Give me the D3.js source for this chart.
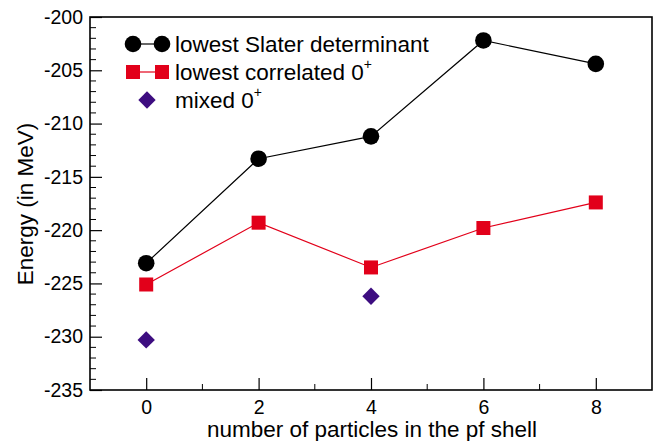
<!DOCTYPE html>
<html>
<head>
<meta charset="utf-8">
<script src="https://cdn.jsdelivr.net/npm/d3@7"></script>
<style>
  body { margin: 0; background: #fff; }
  text { font-family: "Liberation Sans", Arial, Helvetica, sans-serif; fill: #000; }
</style>
</head>
<body>
<svg id="chart"></svg>
<script>
// data
const particles = [0, 2, 4, 6, 8];
const slaterEnergy = [-223.1, -213.3, -211.2, -202.2, -204.4];
const correlatedEnergy = [-225.1, -219.3, -223.5, -219.8, -217.4];
const mixedParticles = [0, 4];
const mixedEnergy = [-230.3, -226.2];
const xTicks = [0, 2, 4, 6, 8];
const yTicks = [-235, -230, -225, -220, -215, -210, -205, -200];

const width = 655, height = 441;
const margin = { top: 17, right: 3, bottom: 51, left: 90 };
const innerW = width - margin.left - margin.right;
const innerH = height - margin.top - margin.bottom;

const svg = d3.select('#chart').attr('width', width).attr('height', height);
const chart = svg.append('g').attr('transform', `translate(${margin.left},${margin.top})`);

const xScale = d3.scaleLinear().domain([-1, 9]).range([0, innerW]);
const yScale = d3.scaleLinear().domain([-235, -200]).range([innerH, 0]);

// minor ticks
const xMinor = d3.range(-1, 10, 1).filter(v => !xTicks.includes(v) && v > -1 && v < 9);
const yMinor = d3.range(-235, -199, 1).filter(v => !yTicks.includes(v));

chart.append('g').selectAll('line').data(xMinor).join('line')
    .attr('x1', d => xScale(d)).attr('x2', d => xScale(d))
    .attr('y1', innerH).attr('y2', innerH - 6)
    .attr('stroke', '#000').attr('stroke-width', 1);
chart.append('g').selectAll('line').data(yMinor).join('line')
    .attr('y1', d => yScale(d)).attr('y2', d => yScale(d))
    .attr('x1', 0).attr('x2', 6)
    .attr('stroke', '#000').attr('stroke-width', 1);

const xAxis = d3.axisBottom(xScale).tickValues(xTicks).tickFormat(d => String(d))
    .tickSizeInner(-12).tickSizeOuter(0);
const yAxis = d3.axisLeft(yScale).tickValues(yTicks).tickFormat(d => String(d))
    .tickSizeInner(-12).tickSizeOuter(0);

const xAxisG = chart.append('g').attr('transform', `translate(0,${innerH})`).call(xAxis);
const yAxisG = chart.append('g').call(yAxis);
[xAxisG, yAxisG].forEach(g => {
    g.select('.domain').remove();
    g.selectAll('.tick line').attr('stroke', '#000').attr('stroke-width', 1.2);
    g.selectAll('.tick text').style('font-size', '19.5px').style('font-family', '"Liberation Sans", Arial, sans-serif');
});
xAxisG.selectAll('.tick text').attr('dy', '0.71em').attr('y', 10);
yAxisG.selectAll('.tick text').attr('x', -7);

// frame
chart.append('rect').attr('x', 0).attr('y', 0).attr('width', innerW).attr('height', innerH)
    .attr('fill', 'none').attr('stroke', '#000').attr('stroke-width', 1.6);

// axis titles
chart.append('text').attr('x', 372 - margin.left).attr('y', innerH + 47)
    .attr('text-anchor', 'middle').style('font-size', '22.5px')
    .text('number of particles in the pf shell');
chart.append('text').attr('transform', `translate(${33 - margin.left},${204 - margin.top}) rotate(-90)`)
    .attr('text-anchor', 'middle').style('font-size', '22.5px')
    .text('Energy (in MeV)');

const red = '#e2001a', purple = '#3d0d80';
const line = d3.line().x(d => xScale(d[0])).y(d => yScale(d[1]));

const slater = particles.map((p, i) => [p, slaterEnergy[i]]);
const correlated = particles.map((p, i) => [p, correlatedEnergy[i]]);
const mixed = mixedParticles.map((p, i) => [p, mixedEnergy[i]]);

chart.append('path').datum(slater).attr('d', line).attr('fill', 'none').attr('stroke', '#000').attr('stroke-width', 1.2);
chart.append('path').datum(correlated).attr('d', line).attr('fill', 'none').attr('stroke', red).attr('stroke-width', 1.2);

chart.selectAll('.dot').data(slater).join('circle').attr('class', 'dot')
    .attr('cx', d => xScale(d[0])).attr('cy', d => yScale(d[1])).attr('r', 8.3).attr('fill', '#000');
chart.selectAll('.sq').data(correlated).join('rect').attr('class', 'sq')
    .attr('x', d => xScale(d[0]) - 7).attr('y', d => yScale(d[1]) - 7)
    .attr('width', 14).attr('height', 14).attr('fill', red);
const diamond = d3.symbol().type(d3.symbolSquare).size(150);
chart.selectAll('.dia').data(mixed).join('path').attr('class', 'dia')
    .attr('d', diamond)
    .attr('transform', d => `translate(${xScale(d[0])},${yScale(d[1])}) rotate(45)`)
    .attr('fill', purple);

// legend
const legend = svg.append('g');
const rows = [
    { y: 44, label: 'lowest Slater determinant', sup: null },
    { y: 72, label: 'lowest correlated 0', sup: '+' },
    { y: 100, label: 'mixed 0', sup: '+' }
];
legend.append('line').attr('x1', 133).attr('x2', 162).attr('y1', rows[0].y).attr('y2', rows[0].y).attr('stroke', '#000').attr('stroke-width', 1.2);
[133, 162].forEach(cx => legend.append('circle').attr('cx', cx).attr('cy', rows[0].y).attr('r', 8.3).attr('fill', '#000'));
legend.append('line').attr('x1', 133).attr('x2', 162).attr('y1', rows[1].y).attr('y2', rows[1].y).attr('stroke', red).attr('stroke-width', 1.2);
[133, 162].forEach(cx => legend.append('rect').attr('x', cx - 7).attr('y', rows[1].y - 7).attr('width', 14).attr('height', 14).attr('fill', red));
legend.append('path').attr('d', diamond).attr('transform', `translate(147,${rows[2].y}) rotate(45)`).attr('fill', purple);

rows.forEach(r => {
    const t = legend.append('text').attr('x', 175).attr('y', r.y + 8).style('font-size', '22.5px').text(r.label);
    if (r.sup) t.append('tspan').attr('dy', -11).style('font-size', '14px').text(r.sup);
});
</script>
</body>
</html>
